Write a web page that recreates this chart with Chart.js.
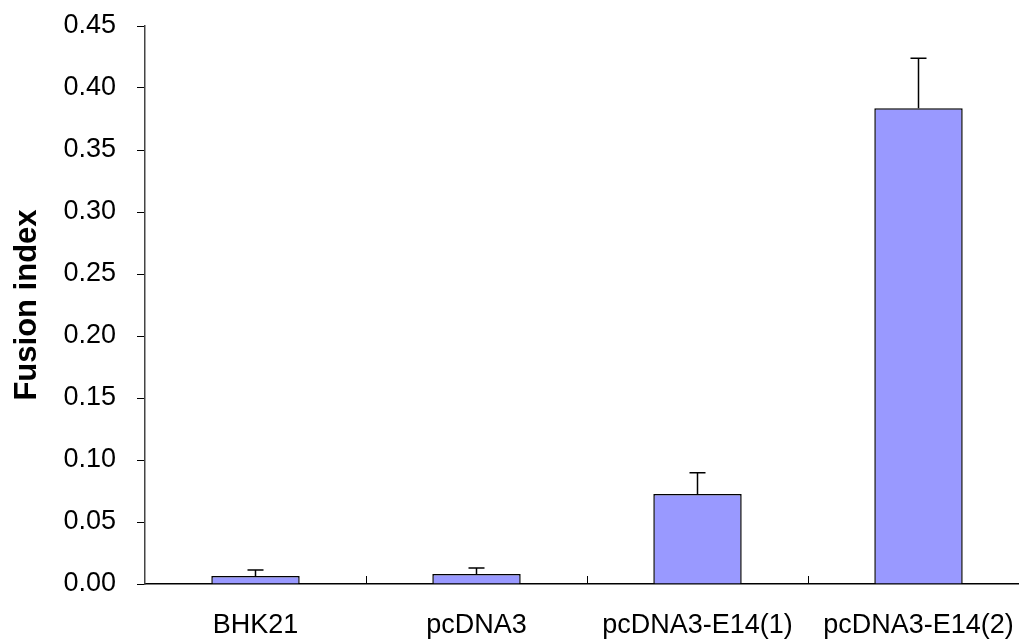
<!DOCTYPE html>
<html>
<head>
<meta charset="utf-8">
<script src="https://cdn.jsdelivr.net/npm/chart.js@4/dist/chart.umd.min.js"></script>
<style>
  html, body { margin: 0; padding: 0; background: #fff; overflow: hidden; }
  #wrap { position: relative; width: 1030px; height: 640px; }
</style>
</head>
<body>
<div id="wrap"><canvas id="chart-canvas"></canvas></div>
<script>
const categories = ['BHK21', 'pcDNA3', 'pcDNA3-E14(1)', 'pcDNA3-E14(2)'];
const fusionIndex = [0.0065, 0.008, 0.0726, 0.3836];
const errorUp = [0.0048, 0.005, 0.0172, 0.0404];
const yTicks = [0, 0.05, 0.10, 0.15, 0.20, 0.25, 0.30, 0.35, 0.40, 0.45];

const chart = document.querySelector('#chart-canvas');
const FONT = "Arial, 'Liberation Sans', sans-serif";

// upper error bars drawn off the y scale
const errorBars = {
  id: 'errorBars',
  afterDatasetsDraw(c) {
    const ctx = c.ctx;
    const y = c.scales.y;
    const meta = c.getDatasetMeta(0);
    ctx.save();
    ctx.strokeStyle = '#000';
    ctx.lineWidth = 1.5;
    meta.data.forEach((bar, i) => {
      const top = y.getPixelForValue(fusionIndex[i] + errorUp[i]);
      ctx.beginPath();
      ctx.moveTo(bar.x, bar.y);
      ctx.lineTo(bar.x, top);
      ctx.moveTo(bar.x - 8, top);
      ctx.lineTo(bar.x + 8, top);
      ctx.stroke();
    });
    ctx.restore();
  }
};

// category tick marks pointing up into the plot
const innerTicks = {
  id: 'innerTicks',
  afterDraw(c) {
    const ctx = c.ctx;
    const x = c.scales.x;
    const bottom = c.chartArea.bottom;
    ctx.save();
    ctx.strokeStyle = '#000';
    ctx.lineWidth = 1;
    for (let i = 1; i < categories.length; i++) {
      const px = Math.round((x.getPixelForTick(i - 1) + x.getPixelForTick(i)) / 2) + 0.5;
      ctx.beginPath();
      ctx.moveTo(px, bottom);
      ctx.lineTo(px, bottom - 8);
      ctx.stroke();
    }
    ctx.restore();
  }
};

let chartObject = new Chart(chart, {
  type: 'bar',
  data: {
    labels: categories,
    datasets: [{
      label: 'Fusion index',
      data: fusionIndex,
      backgroundColor: '#9999ff',
      borderColor: '#000',
      borderWidth: 1.5,
      categoryPercentage: 1,
      barPercentage: 0.4
    }]
  },
  options: {
    responsive: true,
    maintainAspectRatio: false,
    animation: false,
    layout: { padding: { top: 26, right: 1, left: 0, bottom: 0 } },
    plugins: {
      legend: { display: false },
      tooltip: { enabled: false }
    },
    scales: {
      x: {
        afterFit: s => { s.height = 56; s.paddingLeft = 0; s.paddingRight = 0; },
        grid: { display: true, drawOnChartArea: false, drawTicks: false, offset: true, color: '#000' },
        border: { color: '#000', width: 1.5 },
        ticks: { color: '#000', font: { family: FONT, size: 27 }, padding: 25, maxRotation: 0, autoSkip: false }
      },
      y: {
        min: 0,
        max: 0.45,
        afterBuildTicks: s => { s.ticks = yTicks.map(v => ({ value: v })); },
        afterFit: s => { s.width = 145; s.paddingTop = 0; s.paddingBottom = 0; },
        grid: { drawOnChartArea: false, drawTicks: true, tickLength: 8, color: '#000' },
        border: { color: '#444', width: 1.5 },
        ticks: {
          color: '#000',
          font: { family: FONT, size: 27 },
          padding: 21,
          callback: v => Number(v).toFixed(2)
        },
        title: {
          display: true,
          text: 'Fusion index',
          color: '#000',
          font: { family: FONT, size: 31, weight: 'bold' },
          padding: { top: 9, bottom: 0 }
        }
      }
    }
  },
  plugins: [errorBars, innerTicks]
});
</script>
</body>
</html>
